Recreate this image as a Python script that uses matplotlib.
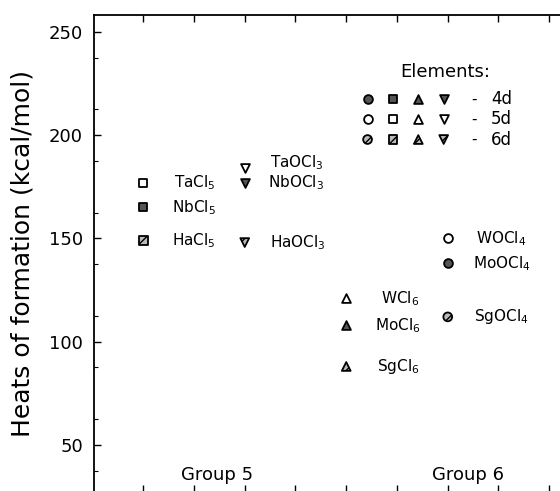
import matplotlib.pyplot as plt
import numpy as np

plt.rcParams["font.family"] = ["DejaVu Sans"]
plt.rcParams["mathtext.default"] = "regular"

# heats of formation, kcal/mol
compounds = ["TaCl$_5$", "NbCl$_5$", "HaCl$_5$",
             "TaOCl$_3$", "NbOCl$_3$", "HaOCl$_3$",
             "WCl$_6$", "MoCl$_6$", "SgCl$_6$",
             "WOCl$_4$", "MoOCl$_4$", "SgOCl$_4$"]
xpos = [1, 1, 1, 3, 3, 3, 5, 5, 5, 7, 7, 7]
heats = [177, 165, 149, 184, 177, 148, 121, 108, 88, 150, 138, 112]
shell = ["5d", "4d", "6d", "5d", "4d", "6d", "5d", "4d", "6d", "5d", "4d", "6d"]
shape = ["s", "s", "s", "v", "v", "v", "^", "^", "^", "o", "o", "o"]

legend_shells = ["4d", "5d", "6d"]
legend_shapes = ["o", "s", "^", "v"]
groups = ["Group 5", "Group 6"]
group_x = [2.45, 7.4]

styles = {
    "4d": dict(facecolor="#555555", hatch=None),
    "5d": dict(facecolor="white", hatch=None),
    "6d": dict(facecolor="#bbbbbb", hatch="////"),
}

# label offsets (points) per compound
label_off = [(22, 0), (21, 0), (21, 0),
             (18, 4), (17, 0), (18, 0),
             (25, 0), (21, 0), (22, 0),
             (20, 0), (18, 0), (19, 0)]

fig = plt.figure(figsize=(5.6, 4.91), dpi=100)
ax = fig.add_axes([94 / 560, -1 / 491, 506 / 560, 477 / 491])


def draw_marker(x, y, m, sh):
    st = styles[sh]
    ax.scatter([x], [y], marker=m, s=40, facecolor=st["facecolor"],
               edgecolor="black", linewidths=1.3, hatch=st["hatch"], zorder=3)


for name, x, y, sh, m, off in zip(compounds, xpos, heats, shell, shape, label_off):
    draw_marker(x, y, m, sh)
    ax.annotate(name, (x, y), xytext=off, textcoords="offset points",
                ha="left", va="center", fontsize=11)

# element legend
ax.text(6.95, 230.6, "Elements:", ha="center", va="center", fontsize=13)
for i, sh in enumerate(legend_shells):
    ly = 217.3 - i * 9.7
    for j, m in enumerate(legend_shapes):
        draw_marker(5.42 + j * 0.5, ly, m, sh)
    ax.text(7.52, ly, "-", ha="center", va="center", fontsize=11)
    ax.text(7.85, ly, sh, ha="left", va="center", fontsize=12)

for g, gx in zip(groups, group_x):
    ax.text(gx, 35.5, g, ha="center", va="center", fontsize=13)

ax.set_xlim(0.03, 10)
ax.set_ylim(27.2, 258.2)
ax.set_xticks(np.arange(1, 10))
ax.set_xticklabels([])
ax.set_yticks([50, 100, 150, 200, 250])
ax.set_yticks(np.arange(37.5, 260, 25), minor=True)
ax.tick_params(axis="both", which="major", direction="in", length=5, width=1,
               top=True, bottom=True, labelsize=13, pad=8)
ax.tick_params(axis="y", which="minor", direction="in", length=3, width=0.8)
ax.tick_params(axis="x", which="minor", bottom=False, top=False)
for s in ["left", "top"]:
    ax.spines[s].set_linewidth(1.3)
ax.set_ylabel("Heats of formation (kcal/mol)", fontsize=18, labelpad=10)

fig.savefig("out.png", dpi=100)
